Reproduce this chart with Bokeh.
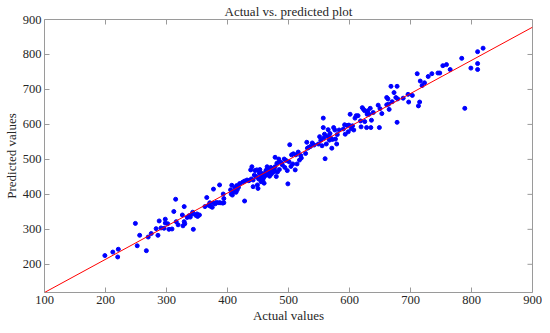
import math
from bokeh.plotting import figure
from bokeh.models import Range1d, FixedTicker
from bokeh.embed import file_html
from bokeh.resources import INLINE

actual = [199, 212, 221, 220, 249, 252, 256, 267, 270, 275, 283, 286, 288, 291, 296, 298, 298, 302, 304, 309,
          312, 315, 316, 319, 326, 327, 329, 329, 330, 334, 337, 339, 342, 343, 344, 348, 350, 351, 354,
          363, 366, 369, 371, 372, 375, 377, 377, 380, 382, 386, 387, 388, 392, 393, 394, 394,
          405, 406, 407, 408, 410, 412, 414, 415, 416, 418, 420, 425, 428, 428, 432, 435,
          438, 440, 439, 442, 442, 445, 447, 449, 448, 450, 451, 453, 453, 455, 457, 458, 460, 461, 462, 463,
          465, 466, 467, 469, 470, 471, 472, 474, 476, 478, 478, 480, 481, 482, 484, 485, 486, 489, 490,
          493, 494, 496, 498, 499, 501, 502, 504, 505, 507, 508, 511, 512, 514, 516, 518, 520, 521,
          528, 530, 531, 533, 536, 539, 542, 549, 551, 553, 555, 557, 557, 558, 559, 560, 562, 564, 565,
          567, 568, 569, 571, 572, 574, 576, 577, 579, 580, 583, 590, 592, 593, 596, 598, 599, 601, 603,
          605, 607, 609, 611, 614, 618, 619, 621, 623, 625, 625, 628, 629, 630, 632, 634, 635, 636, 639,
          647, 649, 650, 653, 661, 661, 663, 664, 665, 668, 670, 673, 676, 678, 678, 679, 688, 696, 697,
          703, 711, 713, 715, 716, 719, 723, 729, 735, 745, 748, 753, 759, 765, 784, 789, 799, 810, 810,
          810, 819,
          444, 452, 459, 464, 468, 473, 477, 455, 462, 470]
predicted = [225, 235, 243, 221, 317, 253, 283, 239, 278, 288, 302, 283, 324, 304, 303, 329, 318, 316, 300, 301,
             351, 386, 322, 313, 341, 310, 322, 365, 316, 334, 339, 335, 344, 349, 300, 340, 344, 337, 341,
             365, 391, 369, 376, 366, 363, 375, 415, 373, 377, 376, 427, 376, 375, 401, 388, 376,
             413, 401, 426, 398, 408, 419, 406, 425, 413, 420, 431, 435, 381, 438, 441, 439,
             470, 479, 444, 422, 441, 468, 451, 427, 470, 417, 444, 459, 471, 449, 460, 441, 432, 452, 460, 468,
             479, 456, 473, 452, 465, 477, 458, 473, 464, 506, 479, 451, 489, 464, 501, 471, 493, 489, 484,
             501, 477, 497, 468, 430, 493, 542, 480, 513, 487, 516, 470, 513, 487, 521, 498, 511, 504,
             517, 549, 532, 534, 537, 547, 541, 544, 565, 555, 539, 618, 591, 561, 572, 502, 544, 566, 585,
             555, 574, 562, 532, 557, 591, 584, 558, 544, 571, 584, 587, 599, 572, 597, 579, 598, 629, 588,
             596, 584, 618, 625, 625, 610, 593, 648, 643, 639, 608, 591, 629, 639, 629, 646, 591, 612, 634,
             655, 591, 645, 631, 656, 677, 673, 658, 643, 709, 665, 691, 677, 709, 606, 673, 675, 686, 664,
             683, 745, 653, 664, 724, 711, 719, 737, 745, 747, 747, 768, 771, 757, 789, 646, 761, 808, 774,
             757, 818,
             455, 462, 447, 470, 458, 466, 470, 436, 455, 462]

fit_x = [100, 900]
fit_y = [119.4, 878]

x_ticks = [100, 200, 300, 400, 500, 600, 700, 800, 900]
y_ticks = [200, 300, 400, 500, 600, 700, 800, 900]

X_MIN, X_MAX = 100, 900
Y_MIN, Y_MAX = 119.4, 900

FONT = "Liberation Serif"
TXT = "#262626"
AX = "#9a9a9a"

p = figure(width=542, height=325, output_backend="svg", toolbar_location=None,
           x_range=Range1d(X_MIN, X_MAX), y_range=Range1d(Y_MIN, Y_MAX),
           title="Actual vs. predicted plot",
           min_border_left=0, min_border_right=10, min_border_top=14, min_border_bottom=0)

p.title.text_font = FONT
p.title.text_font_style = "normal"
p.title.text_font_size = "13px"
p.title.text_color = TXT
p.title.align = "center"
p.title.standoff = 2

p.grid.visible = False
p.outline_line_color = AX
p.outline_line_width = 1
p.background_fill_color = "white"
p.border_fill_color = "white"

for ax in (p.xaxis[0], p.yaxis[0]):
    ax.major_tick_in = 5
    ax.major_tick_out = 0
    ax.minor_tick_line_color = None
    ax.axis_line_color = None
    ax.major_tick_line_color = AX
    ax.major_label_text_font = FONT
    ax.major_label_text_font_size = "12.5px"
    ax.major_label_text_color = TXT
    ax.axis_label_text_font = FONT
    ax.axis_label_text_font_style = "normal"
    ax.axis_label_text_font_size = "13px"
    ax.axis_label_text_color = TXT
    ax.major_label_standoff = 3
    ax.axis_label_standoff = 1

p.xaxis[0].ticker = FixedTicker(ticks=x_ticks)
p.yaxis[0].ticker = FixedTicker(ticks=y_ticks)
p.xaxis[0].axis_label = "Actual values"
p.yaxis[0].axis_label = "Predicted values"

# mirrored tick marks on the top and right edges of the box
p.ray(x=x_ticks, y=[Y_MAX] * len(x_ticks), length=5, length_units="screen",
      angle=-math.pi / 2, line_color=AX, line_width=1)
p.ray(x=[X_MAX] * len(y_ticks), y=y_ticks, length=5, length_units="screen",
      angle=math.pi, line_color=AX, line_width=1)

p.scatter(actual, predicted, size=4, color="#0000ff", line_color="#0000ff")
p.line(fit_x, fit_y, color="#ff0000", line_width=1)

open("out.html", "w").write(file_html(p, INLINE))
